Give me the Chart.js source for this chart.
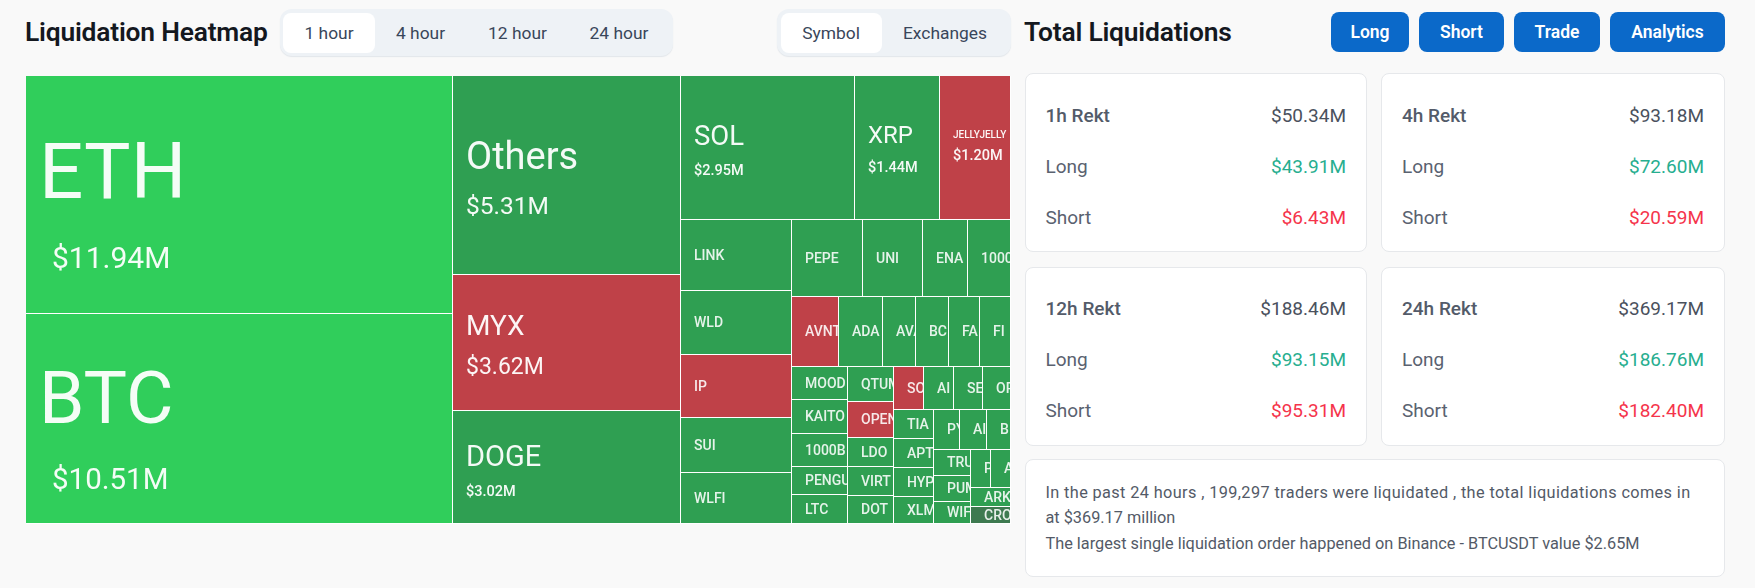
<!DOCTYPE html>
<html>
<head>
<meta charset="utf-8">
<title>Liquidation Heatmap</title>
<script src="https://cdn.jsdelivr.net/npm/chart.js@4"></script>
<style>
html,body{margin:0;padding:0;background:#f9f9f9;width:1755px;height:588px;overflow:hidden;font-family:Roboto,sans-serif}
.a{position:absolute;white-space:nowrap}
h2{margin:0;font-size:26.4px;font-weight:600;color:#14181f;line-height:40px;letter-spacing:-.2px}
.seg{background:#eef2f6;border-radius:12px;box-shadow:0 1px 1px #e2e6ea}
.segact{background:#fff;border-radius:8px}
.segtxt{color:#39465a;font-size:17.4px;line-height:40px;transform:translateX(-50%)}
.btn{background:#0b69c9;border-radius:8px;color:#fff;font-size:17.5px;font-weight:600;line-height:40px;text-align:center;box-sizing:border-box}
.card{background:#fff;border:1px solid #e6e8eb;border-radius:8px;box-sizing:border-box}
.lab{color:#5a6270;font-size:19px;line-height:24px}
.head{font-weight:500;color:#535b69}
.val{color:#4a515d;font-size:19px;line-height:24px;text-align:right}
.up{color:#27ae8f}.down{color:#f5344b}
.note{color:#535a67;font-size:16.3px;line-height:25.6px}
canvas{position:absolute;left:26px;top:76px}
</style>
</head>
<body>
<canvas id="c" width="985" height="448"></canvas>
<script>
// ---- data ----
const symbols=["ETH","BTC","Others","MYX","DOGE","SOL","XRP","JELLYJELLY","LINK","WLD","IP","SUI","WLFI","PEPE","UNI","ENA","1000","AVNT","ADA","AVA","BC","FA","FI","MOOD","KAITO","1000B","PENGU","LTC","QTUM","OPEN","LDO","VIRT","DOT","SO","AI","SE","OP","TIA","APT","HYP","XLM","PY","AI","B","TRU","PUM","WIF","P","A","ARK","CRO"];
const amounts=[11.94,10.51,5.31,3.62,3.02,2.95,1.44,1.20,0.92,0.83,0.81,0.72,0.66,0.64,0.55,0.40,0.39,0.385,0.36,0.27,0.27,0.26,0.25,0.22,0.22,0.22,0.19,0.19,0.19,0.19,0.158,0.158,0.15,0.152,0.147,0.15,0.14,0.134,0.134,0.134,0.125,0.125,0.123,0.114,0.112,0.11,0.096,0.09,0.09,0.088,0.082];
const tones=["bright","bright","green","red","green","green","green","red","green","green","red","green","green","green","green","green","green","red","green","green","green","green","green","green","green","green","green","green","green","red","green","green","green","red","green","green","green","green","green","green","green","green","green","green","green","green","green","green","green","green","dark"];
const amountLabelled=["ETH","BTC","Others","MYX","DOGE","SOL","XRP","JELLYJELLY"];
const periods=["1h Rekt","4h Rekt","12h Rekt","24h Rekt"];
const totals=["$50.34M","$93.18M","$188.46M","$369.17M"];
const longs=["$43.91M","$72.60M","$93.15M","$186.76M"];
const shorts=["$6.43M","$20.59M","$95.31M","$182.40M"];
const hourTabs=["1 hour","4 hour","12 hour","24 hour"];
const viewTabs=["Symbol","Exchanges"];
const actions=["Long","Short","Trade","Analytics"];
const noteLines=["In the past 24 hours , 199,297 traders were liquidated , the total liquidations comes in","at $369.17 million","The largest single liquidation order happened on Binance - BTCUSDT value $2.65M"];

// ---- styles ----
const palette={bright:"#30ce5b",green:"#2f9f52",red:"#bf4148",dark:"#3e7a50"};
const labelStyle={
 ETH:{n:78,v:30,dn:-16.5,dv:65,xv:13,w:400},BTC:{n:73,v:29.5,dn:-14,dv:63,xv:13,w:400},
 Others:{n:38,v:24.5,dn:-16,dv:32,w:400},MYX:{n:28,v:23,dn:-15,dv:25,w:400},DOGE:{n:29,v:14.5,dn:-9,dv:25},
 SOL:{n:27.5,v:14.5,dn:-10,dv:23},XRP:{n:24,v:14.5,dn:-11,dv:20},JELLYJELLY:{n:10,v:14.5,dn:-12.5,dv:8.5}
};
const noteSpacing=[0.38,0,0];

// ---- squarified treemap layout, in scale units ----
function squarify(values,W,H){
 const ratio=(1+Math.sqrt(5))/2, total=values.reduce((a,b)=>a+b,0);
 const areas=values.map(v=>v/total*W*H), out=[];
 const rect={x:0,y:0,w:W,h:H};
 const worst=(row,sum,len)=>{
  const sq=sum*sum,f=len*len*ratio;
  return Math.max(f*Math.max(...row)/sq,sq/(f*Math.min(...row)));
 };
 const place=(idx,sum,len,flush)=>{
  const alongW=len===rect.w;
  let other=sum/len;
  const avail=alongW?rect.h:rect.w;
  if(flush||other>avail) other=avail;
  let last=alongW?rect.x:rect.y;
  const end=alongW?rect.x+rect.w:rect.y+rect.h;
  idx.forEach((k,i)=>{
   const step=areas[k]/other, rem=end-last;
   const m=(i===idx.length-1||rem<step)?rem:step;
   out[k]=alongW?{x0:last,x1:last+m,y0:rect.y,y1:rect.y+other}:{x0:rect.x,x1:rect.x+other,y0:last,y1:last+m};
   last+=m;
  });
  if(alongW){rect.y+=other;rect.h-=other}else{rect.x+=other;rect.w-=other}
 };
 let row=[],sum=0,best=Infinity,len=Math.min(W,H),i=0;
 while(i<areas.length){
  const test=row.concat(i),s=sum+areas[i];
  const score=worst(test.map(k=>areas[k]),s,len);
  if(score<=best){row=test;sum=s;best=score;i++}
  else{place(row,sum,len,false);len=Math.min(rect.w,rect.h);row=[];sum=0;best=Infinity}
 }
 if(row.length)place(row,sum,len,true);
 return out;
}

class TreemapController extends Chart.DatasetController{
 update(mode){const m=this._cachedMeta;this.updateElements(m.data,0,m.data.length,mode)}
 updateElements(rects,start,count,mode){
  const {xScale,yScale}=this._cachedMeta;
  const cells=squarify(this.getDataset().data,xScale.max-xScale.min,yScale.max-yScale.min);
  this.cells=[];
  for(let i=start;i<start+count;i++){
   const c=cells[i];
   const l=Math.round(xScale.getPixelForValue(c.x0)),r=Math.round(xScale.getPixelForValue(c.x1));
   const t=Math.round(yScale.getPixelForValue(c.y0)),b=Math.round(yScale.getPixelForValue(c.y1));
   this.cells[i]={l,r,t,b};
   this.updateElement(rects[i],i,{x:(l+r)/2,y:t,base:b,width:r-l,height:b-t,horizontal:false,enableBorderRadius:false,inflateAmount:0,
    borderSkipped:{top:true,left:true,right:false,bottom:false},options:this.resolveDataElementOptions(i,mode)},mode);
  }
 }
}
TreemapController.id="treemap";
TreemapController.defaults={datasetElementType:false,dataElementType:"bar"};
TreemapController.overrides={scales:{x:{type:"linear"},y:{type:"linear"}}};
Chart.register(TreemapController);

const cellLabels={id:"cellLabels",afterDatasetsDraw(chart){
 const ctx=chart.ctx,ctl=chart.getDatasetMeta(0).controller,pad=13;
 symbols.forEach((name,i)=>{
  const c=ctl.cells[i],st=labelStyle[name],cy=(c.t+c.b)/2;
  ctx.save();
  ctx.beginPath();ctx.rect(c.l,c.t,c.r-c.l-1,c.b-c.t-1);ctx.clip();
  ctx.textBaseline="middle";ctx.textAlign="left";
  if(amountLabelled.includes(name)){
   ctx.fillStyle="rgba(255,255,255,.95)";
   ctx.font=`${st.n>20?400:500} ${st.n}px Roboto`;
   ctx.fillText(name,c.l+pad,cy+st.dn);
   ctx.font=`${st.w||500} ${st.v}px Roboto`;
   ctx.fillText("$"+amounts[i].toFixed(2)+"M",c.l+pad+(st.xv||0),cy+st.dv);
  }else{
   ctx.fillStyle="rgba(255,255,255,.88)";
   ctx.font="500 14px Roboto";
   ctx.fillText(name,c.l+pad,cy+0.5);
  }
  ctx.restore();
 });
}};

new Chart(document.getElementById("c"),{
 type:"treemap",
 data:{labels:symbols,datasets:[{label:"Liquidations ($M)",data:amounts,backgroundColor:tones.map(t=>palette[t]),borderColor:"#ffffff",borderWidth:1}]},
 options:{responsive:false,animation:false,devicePixelRatio:1,layout:{padding:0},
  scales:{x:{type:"linear",display:false,min:0,max:985},y:{type:"linear",display:false,min:0,max:448,reverse:true}},
  plugins:{legend:{display:false},tooltip:{enabled:false}}},
 plugins:[cellLabels]
});

// ---- surrounding page ----
function el(cls,css,txt){const d=document.createElement("div");d.className="a "+cls;d.style.cssText=css;if(txt!==undefined)d.textContent=txt;document.body.appendChild(d);return d}
const t1=el("","left:25px;top:12px");t1.innerHTML="<h2>Liquidation Heatmap</h2>";
const t2=el("","left:1024px;top:12px");t2.innerHTML="<h2>Total Liquidations</h2>";
el("seg","left:280px;top:9px;width:393px;height:47px");
el("segact","left:283px;top:13px;width:92px;height:40px");
[329,420.5,517.5,619].forEach((x,i)=>el("segtxt",`left:${x}px;top:13px`,hourTabs[i]));
el("seg","left:777px;top:9px;width:234px;height:47px");
el("segact","left:781px;top:13px;width:101px;height:40px");
[831,945].forEach((x,i)=>el("segtxt",`left:${x}px;top:13px`,viewTabs[i]));
[[1331,78],[1419,85],[1514,86],[1610,115]].forEach((b,i)=>el("btn",`left:${b[0]}px;top:12px;width:${b[1]}px;height:40px`,actions[i]));
[[1024.5,73,342.5,179,31],[1381,73,344,179,31],[1024.5,267,342.5,179,30],[1381,267,344,179,30]].forEach((c,i)=>{
 el("card",`left:${c[0]}px;top:${c[1]}px;width:${c[2]}px;height:${c[3]}px`);
 const lx=c[0]+21,rx=1755-(c[0]+c[2]-21);
 [[periods[i],totals[i],"head",""],["Long",longs[i],"","up"],["Short",shorts[i],"","down"]].forEach((r,j)=>{
  const y=c[1]+c[4]+j*51;
  el("lab "+r[2],`left:${lx}px;top:${y}px`,r[0]);
  el("val "+r[3],`right:${rx}px;top:${y}px`,r[1]);
 });
});
el("card","left:1024.5px;top:459px;width:700.5px;height:118px");
noteLines.forEach((s,i)=>el("note",`left:1045.5px;top:${479.5+i*25.6}px;letter-spacing:${noteSpacing[i]}px`,s));
</script>
</body>
</html>
